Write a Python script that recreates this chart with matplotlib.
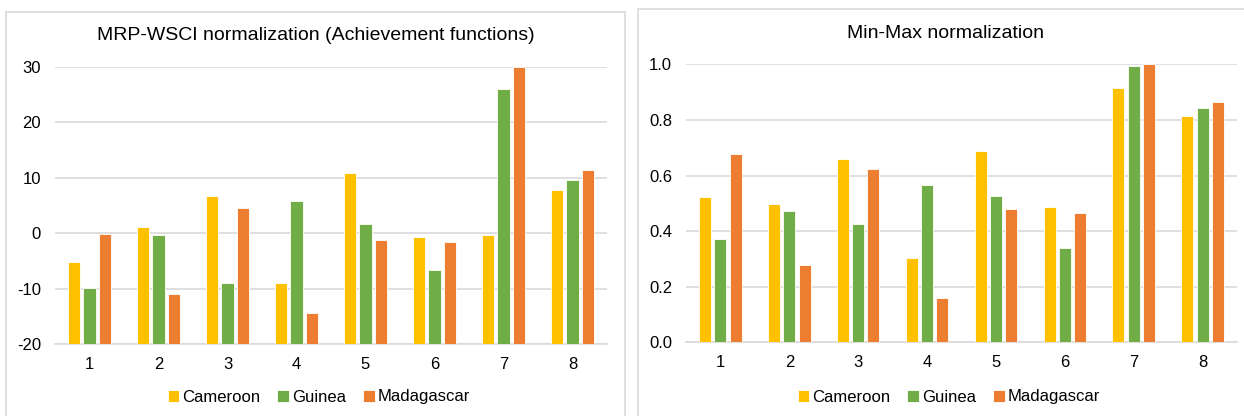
import matplotlib.pyplot as plt
from matplotlib.patches import Rectangle
import numpy as np

plt.rcParams['font.family'] = ['Liberation Sans', 'DejaVu Sans']

# -------------------------
# data
# -------------------------
groups = ["1", "2", "3", "4", "5", "6", "7", "8"]
countries = ["Cameroon", "Guinea", "Madagascar"]
colors = ["#FFC000", "#70AD47", "#ED7D31"]

# achievement-function scores
mrp_cameroon = [-5.1, 1.1, 6.8, -9.0, 10.8, -0.7, -0.4, 7.8]
mrp_guinea = [-9.8, -0.4, -9.0, 5.8, 1.7, -6.7, 26.0, 9.6]
mrp_madagascar = [-0.2, -11.0, 4.6, -14.4, -1.2, -1.6, 30.0, 11.4]

# min-max scores
mm_cameroon = [0.523, 0.498, 0.658, 0.303, 0.687, 0.486, 0.916, 0.814]
mm_guinea = [0.370, 0.474, 0.424, 0.567, 0.528, 0.338, 0.994, 0.842]
mm_madagascar = [0.677, 0.277, 0.623, 0.159, 0.478, 0.466, 1.000, 0.866]

W, H = 1244, 416
fig = plt.figure(figsize=(W / 100, H / 100), dpi=100)

# panel frames
fig.patches.append(Rectangle((6 / W, -0.1), (625 - 6) / W, 1.1 - 12 / H,
                             transform=fig.transFigure, fill=False,
                             edgecolor="#D9D9D9", lw=1.2))
fig.patches.append(Rectangle((638 / W, -0.1), 0.5, 1.1 - 9 / H,
                             transform=fig.transFigure, fill=False,
                             edgecolor="#D9D9D9", lw=1.2))


def bar_panel(rect, series, ylim, yticks, fmt):
    ax = fig.add_axes(rect)
    x = np.arange(len(groups))
    bw = 0.174
    step = 0.222
    base = ylim[0]  # bars grow from the bottom of the value axis
    for i, (vals, c, name) in enumerate(zip(series, colors, countries)):
        vals = np.asarray(vals)
        ax.bar(x + (i - 1) * step, vals - base, bottom=base, width=bw,
               color=c, label=name, edgecolor="white", linewidth=0.6,
               zorder=3)
    ax.set_xlim(-0.5, len(groups) - 0.5)
    ax.set_ylim(*ylim)
    ax.set_yticks(yticks)
    ax.set_yticklabels([fmt(v) for v in yticks])
    ax.set_xticks(x)
    ax.set_xticklabels(groups)
    ax.grid(axis="y", color="#D9D9D9", lw=1.2, zorder=0)
    for s in ["top", "right", "left"]:
        ax.spines[s].set_visible(False)
    ax.spines["bottom"].set_color("#D9D9D9")
    ax.spines["bottom"].set_linewidth(1.2)
    ax.tick_params(length=0, labelsize=12, colors="#000000")
    ax.tick_params(axis="x", pad=9)
    ax.tick_params(axis="y", pad=10)
    return ax


ax1 = bar_panel([55 / W, (416 - 344.3) / H, (607 - 55) / W, (344.3 - 66.7) / H],
                [mrp_cameroon, mrp_guinea, mrp_madagascar],
                (-20, 30), [-20, -10, 0, 10, 20, 30], lambda v: f"{v:d}")
ax2 = bar_panel([686 / W, (416 - 342.3) / H, (1237 - 686) / W, (342.3 - 64.3) / H],
                [mm_cameroon, mm_guinea, mm_madagascar],
                (0, 1.0), [0.0, 0.2, 0.4, 0.6, 0.8, 1.0], lambda v: f"{v:.1f}")

fig.text(316 / W, 1 - 35 / H, "MRP-WSCI normalization (Achievement functions)",
         ha="center", va="center", fontsize=14)
fig.text(946 / W, 1 - 33 / H, "Min-Max normalization",
         ha="center", va="center", fontsize=14)

for ax, cx in [(ax1, 319), (ax2, 949)]:
    ax.legend(loc="center", bbox_to_anchor=(cx / W, 1 - 397 / H),
              bbox_transform=fig.transFigure, ncol=3, frameon=False,
              fontsize=12, handlelength=0.7, handleheight=0.7,
              handletextpad=0.2, columnspacing=1.0)

fig.savefig("out.png", dpi=100)
